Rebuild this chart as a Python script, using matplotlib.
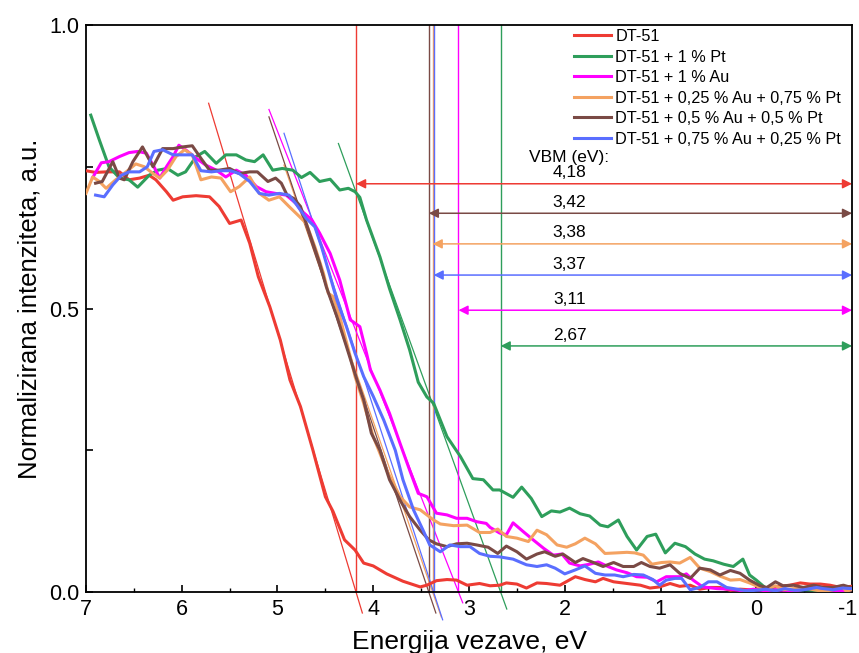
import matplotlib
matplotlib.use("Agg")
import matplotlib.pyplot as plt
from matplotlib.ticker import MultipleLocator, FixedLocator, FuncFormatter

plt.rcParams['font.family'] = ['Liberation Sans', 'DejaVu Sans']

# ---- spectra: binding energy (eV) and normalised intensity ----
e_dt51 = [7.00, 6.90, 6.79, 6.65, 6.55, 6.44, 6.34, 6.27, 6.16, 6.09, 5.99, 5.85, 5.71, 5.61, 5.50,
          5.38, 5.29, 5.20, 5.08, 4.97, 4.87, 4.76, 4.63, 4.50, 4.42, 4.30, 4.19, 4.10, 4.00, 3.86,
          3.69, 3.51, 3.44, 3.34, 3.23, 3.13, 3.02, 2.89, 2.78, 2.68, 2.61, 2.50, 2.40, 2.29, 2.19,
          2.05, 1.89, 1.79, 1.68, 1.60, 1.49, 1.35, 1.21, 1.11, 1.01, 0.90, 0.80, 0.69, 0.59, 0.48,
          0.38, 0.27, 0.17, 0.07, -0.04, -0.14, -0.25, -0.35, -0.46, -0.56, -0.67, -0.77, -0.88, -0.99]
i_dt51 = [0.743, 0.740, 0.741, 0.741, 0.727, 0.730, 0.735, 0.727, 0.706, 0.691, 0.697, 0.699, 0.697, 0.680, 0.650,
          0.656, 0.615, 0.556, 0.503, 0.444, 0.374, 0.327, 0.250, 0.168, 0.142, 0.092, 0.074, 0.051, 0.046, 0.032,
          0.019, 0.009, 0.012, 0.020, 0.022, 0.021, 0.012, 0.015, 0.011, 0.012, 0.016, 0.014, 0.007, 0.016, 0.015,
          0.012, 0.027, 0.022, 0.018, 0.024, 0.018, 0.015, 0.012, 0.007, 0.009, 0.015, 0.010, 0.012, 0.005, 0.008,
          0.008, 0.003, 0.005, 0.004, 0.005, 0.008, 0.010, 0.012, 0.016, 0.014, 0.014, 0.012, 0.008, 0.010]

e_pt = [6.95, 6.86, 6.76, 6.65, 6.55, 6.46, 6.34, 6.25, 6.15, 6.04, 5.96, 5.85, 5.76, 5.64, 5.54,
        5.43, 5.33, 5.24, 5.15, 5.05, 4.95, 4.84, 4.75, 4.66, 4.56, 4.45, 4.35, 4.26, 4.19, 4.14,
        4.07, 3.93, 3.83, 3.72, 3.62, 3.53, 3.44, 3.37, 3.23, 3.09, 2.96, 2.85, 2.75, 2.68, 2.54,
        2.45, 2.35, 2.24, 2.14, 2.05, 1.95, 1.84, 1.74, 1.63, 1.55, 1.44, 1.35, 1.25, 1.14, 1.05,
        0.95, 0.85, 0.74, 0.64, 0.54, 0.45, 0.34, 0.24, 0.14, 0.07, 0.00, -0.09, -0.20, -0.30,
        -0.40, -0.50, -0.60, -0.70, -0.80, -0.90, -0.99]
i_pt = [0.841, 0.797, 0.750, 0.730, 0.727, 0.714, 0.735, 0.744, 0.747, 0.735, 0.741, 0.768, 0.777, 0.756, 0.771,
        0.771, 0.762, 0.759, 0.771, 0.744, 0.747, 0.744, 0.731, 0.740, 0.724, 0.728, 0.709, 0.712, 0.706, 0.696,
        0.656, 0.591, 0.535, 0.480, 0.427, 0.370, 0.344, 0.333, 0.274, 0.239, 0.200, 0.198, 0.180, 0.180, 0.167,
        0.185, 0.165, 0.133, 0.143, 0.141, 0.148, 0.138, 0.134, 0.118, 0.115, 0.127, 0.098, 0.074, 0.098, 0.102,
        0.069, 0.086, 0.080, 0.067, 0.058, 0.055, 0.049, 0.045, 0.058, 0.030, 0.021, 0.008, 0.003, 0.005,
        0.002, 0.004, 0.003, 0.002, 0.004, 0.003, 0.004]

e_au = [6.93, 6.84, 6.76, 6.65, 6.55, 6.46, 6.37, 6.29, 6.23, 6.16, 6.09, 6.03, 5.96, 5.85, 5.75,
        5.64, 5.54, 5.43, 5.33, 5.22, 5.12, 5.02, 4.91, 4.81, 4.76, 4.64, 4.56, 4.45, 4.35, 4.24,
        4.14, 4.07, 4.03, 3.93, 3.83, 3.72, 3.62, 3.53, 3.44, 3.34, 3.23, 3.13, 3.02, 2.92, 2.82,
        2.78, 2.68, 2.61, 2.54, 2.43, 2.33, 2.22, 2.12, 2.03, 1.95, 1.84, 1.74, 1.65, 1.55, 1.46,
        1.35, 1.25, 1.14, 1.04, 0.94, 0.80, 0.73, 0.66, 0.56, 0.41, 0.27, 0.14, 0.03, -0.10,
        -0.20, -0.30, -0.40, -0.50, -0.60, -0.70, -0.80, -0.90, -0.99]
i_au = [0.731, 0.757, 0.759, 0.768, 0.775, 0.777, 0.774, 0.750, 0.730, 0.750, 0.768, 0.788, 0.780, 0.765, 0.753,
        0.744, 0.732, 0.744, 0.735, 0.715, 0.706, 0.703, 0.700, 0.686, 0.674, 0.656, 0.633, 0.597, 0.550, 0.480,
        0.468, 0.421, 0.392, 0.356, 0.315, 0.262, 0.215, 0.174, 0.168, 0.139, 0.136, 0.130, 0.130, 0.124, 0.121,
        0.114, 0.104, 0.101, 0.122, 0.106, 0.092, 0.077, 0.065, 0.067, 0.051, 0.046, 0.049, 0.053, 0.045, 0.039,
        0.034, 0.027, 0.026, 0.018, 0.027, 0.027, 0.032, 0.021, 0.009, 0.006, 0.005, 0.002, 0.005, 0.002,
        0.004, 0.003, 0.002, 0.005, 0.008, 0.004, 0.003, 0.002, 0.004]

e_au25 = [7.00, 6.93, 6.86, 6.79, 6.69, 6.58, 6.48, 6.39, 6.30, 6.23, 6.15, 6.06, 5.97, 5.89, 5.80,
          5.69, 5.59, 5.49, 5.40, 5.29, 5.19, 5.09, 4.98, 4.88, 4.77, 4.70, 4.61, 4.52, 4.47, 4.42,
          4.35, 4.24, 4.19, 4.10, 4.00, 3.86, 3.72, 3.62, 3.51, 3.44, 3.37, 3.30, 3.16, 3.02, 2.89,
          2.78, 2.70, 2.61, 2.50, 2.38, 2.29, 2.19, 2.08, 1.98, 1.89, 1.79, 1.68, 1.58, 1.46, 1.35,
          1.27, 1.18, 1.09, 0.99, 0.90, 0.80, 0.69, 0.59, 0.48, 0.38, 0.27, 0.17, 0.07, -0.04,
          -0.11, -0.20, -0.28, -0.39, -0.49, -0.60, -0.70, -0.80, -0.89, -0.94, -0.99]
i_au25 = [0.703, 0.732, 0.724, 0.712, 0.727, 0.741, 0.755, 0.750, 0.738, 0.730, 0.744, 0.768, 0.780, 0.771, 0.727,
          0.732, 0.730, 0.706, 0.715, 0.732, 0.703, 0.691, 0.697, 0.680, 0.662, 0.650, 0.609, 0.562, 0.527, 0.521,
          0.486, 0.415, 0.380, 0.333, 0.274, 0.215, 0.168, 0.150, 0.145, 0.136, 0.127, 0.120, 0.117, 0.118, 0.105,
          0.105, 0.111, 0.098, 0.095, 0.089, 0.109, 0.101, 0.083, 0.079, 0.085, 0.095, 0.085, 0.068, 0.069, 0.070,
          0.069, 0.065, 0.049, 0.052, 0.053, 0.051, 0.061, 0.042, 0.036, 0.028, 0.021, 0.022, 0.016, 0.008,
          0.006, 0.011, 0.004, 0.006, 0.008, 0.004, 0.001, 0.004, 0.011, 0.001, 0.004]

e_au50 = [6.90, 6.83, 6.72, 6.65, 6.60, 6.51, 6.41, 6.30, 6.20, 6.09, 5.99, 5.89, 5.80, 5.71, 5.61,
          5.50, 5.40, 5.29, 5.21, 5.10, 5.02, 4.96, 4.90, 4.83, 4.76, 4.70, 4.63, 4.56, 4.49, 4.38,
          4.28, 4.17, 4.10, 4.02, 3.93, 3.83, 3.72, 3.62, 3.51, 3.42, 3.34, 3.23, 3.13, 3.02, 2.92,
          2.80, 2.70, 2.61, 2.50, 2.40, 2.29, 2.21, 2.10, 2.02, 1.89, 1.81, 1.70, 1.60, 1.49, 1.39,
          1.28, 1.20, 1.11, 1.01, 0.90, 0.80, 0.69, 0.59, 0.48, 0.38, 0.27, 0.17, 0.07, -0.04,
          -0.11, -0.20, -0.28, -0.39, -0.49, -0.60, -0.70, -0.80, -0.91, -0.99]
i_au50 = [0.721, 0.724, 0.759, 0.730, 0.727, 0.759, 0.785, 0.750, 0.782, 0.782, 0.785, 0.787, 0.765, 0.744, 0.744,
          0.747, 0.738, 0.741, 0.741, 0.724, 0.730, 0.721, 0.700, 0.694, 0.680, 0.650, 0.615, 0.580, 0.538, 0.486,
          0.433, 0.374, 0.339, 0.280, 0.250, 0.198, 0.162, 0.133, 0.109, 0.092, 0.085, 0.080, 0.085, 0.086, 0.083,
          0.079, 0.068, 0.081, 0.071, 0.058, 0.067, 0.071, 0.063, 0.067, 0.052, 0.059, 0.052, 0.045, 0.052, 0.045,
          0.045, 0.052, 0.045, 0.042, 0.048, 0.033, 0.024, 0.042, 0.039, 0.030, 0.038, 0.033, 0.021, 0.011,
          0.008, 0.018, 0.011, 0.012, 0.008, 0.012, 0.008, 0.008, 0.012, 0.008]

e_au75 = [6.90, 6.81, 6.72, 6.63, 6.55, 6.44, 6.36, 6.29, 6.20, 6.09, 5.99, 5.89, 5.80, 5.69, 5.59,
          5.49, 5.40, 5.29, 5.19, 5.09, 4.98, 4.88, 4.80, 4.70, 4.61, 4.54, 4.47, 4.38, 4.28, 4.19,
          4.10, 4.00, 3.89, 3.77, 3.69, 3.58, 3.48, 3.41, 3.30, 3.20, 3.09, 2.99, 2.89, 2.78, 2.68,
          2.54, 2.40, 2.29, 2.19, 2.10, 2.00, 1.89, 1.79, 1.68, 1.58, 1.48, 1.39, 1.28, 1.18, 1.08,
          1.01, 0.94, 0.85, 0.78, 0.69, 0.59, 0.50, 0.41, 0.31, 0.20, 0.10, 0.00, -0.10, -0.20,
          -0.30, -0.40, -0.50, -0.63, -0.70, -0.80, -0.90, -0.99]
i_au75 = [0.700, 0.697, 0.718, 0.735, 0.741, 0.741, 0.750, 0.777, 0.780, 0.771, 0.771, 0.771, 0.743, 0.741, 0.743,
          0.743, 0.738, 0.724, 0.703, 0.700, 0.703, 0.700, 0.683, 0.659, 0.644, 0.609, 0.568, 0.515, 0.468, 0.421,
          0.380, 0.345, 0.303, 0.250, 0.198, 0.145, 0.109, 0.083, 0.071, 0.083, 0.080, 0.080, 0.068, 0.063, 0.062,
          0.058, 0.048, 0.045, 0.048, 0.042, 0.032, 0.039, 0.046, 0.033, 0.030, 0.030, 0.027, 0.031, 0.030, 0.022,
          0.012, 0.021, 0.024, 0.024, 0.004, 0.008, 0.018, 0.018, 0.008, 0.005, 0.002, 0.003, 0.005, 0.002,
          0.006, 0.003, 0.004, 0.008, 0.006, 0.004, 0.007, 0.006]

labels = ["DT-51", "DT-51 + 1 % Pt", "DT-51 + 1 % Au",
          "DT-51 + 0,25 % Au + 0,75 % Pt", "DT-51 + 0,5 % Au + 0,5 % Pt",
          "DT-51 + 0,75 % Au + 0,25 % Pt"]
energies = [e_dt51, e_pt, e_au, e_au25, e_au50, e_au75]
intensities = [i_dt51, i_pt, i_au, i_au25, i_au50, i_au75]
colors = ["#EE3B33", "#2E9E5B", "#FF00FF", "#F4A261", "#7A4A45", "#5A6EFF"]

# ---- valence band maximum: value, linear-fit slope and drawn extent ----
vbm = [4.18, 2.67, 3.11, 3.38, 3.42, 3.37]
vbm_text = ["4,18", "2,67", "3,11", "3,38", "3,42", "3,37"]
fit_slope = [0.56, 0.467, 0.43, 0.485, 0.502, 0.518]
fit_top = [0.862, 0.791, 0.851, 0.753, 0.838, 0.809]
fit_bottom = [-0.037, -0.030, -0.019, -0.044, -0.037, -0.049]
arrow_level = [0.720, 0.434, 0.497, 0.614, 0.668, 0.559]

x_ticks = [7, 6, 5, 4, 3, 2, 1, 0, -1]

fig = plt.figure(figsize=(8.59, 6.53), dpi=100)
ax = fig.add_axes([0.1001, 0.0934, 0.8918, 0.8683])

for e, i, c, lab in zip(energies, intensities, colors, labels):
    ax.plot(e, i, color=c, lw=2.2, label=lab, zorder=3)

for v, s, yt, yb, c in zip(vbm, fit_slope, fit_top, fit_bottom, colors):
    ax.plot([v + yt / s, v + yb / s], [yt, yb], color=c, lw=0.9, clip_on=False, zorder=2)
    ax.plot([v, v], [0, 1], color=c, lw=1.0, zorder=2)

for v, lvl, txt, c in zip(vbm, arrow_level, vbm_text, colors):
    ax.annotate("", xy=(v, lvl), xytext=(-1.0, lvl),
                arrowprops=dict(arrowstyle="<|-|>", color=c, lw=1.1,
                                mutation_scale=14, shrinkA=0, shrinkB=0),
                zorder=4)
    ax.text(1.95, lvl + 0.006, txt, ha="center", va="bottom", fontsize=12.5)

ax.text(1.95, 0.767, "VBM (eV):", ha="center", va="center", fontsize=12.5)

ax.set_xlim(7, -1)
ax.set_ylim(0, 1)
ax.xaxis.set_major_locator(FixedLocator(x_ticks))
ax.xaxis.set_minor_locator(MultipleLocator(0.5))
# the right-most label is placed by hand so it stays inside the canvas
ax.xaxis.set_major_formatter(FuncFormatter(lambda v, p: "" if v == x_ticks[-1] else f"{v:g}"))
ax.annotate(f"{x_ticks[-1]:g}", xy=(x_ticks[-1], 0), xycoords=("data", "axes fraction"),
            xytext=(-3, -5), textcoords="offset points", ha="center", va="top",
            fontsize=15.5, annotation_clip=False)
ax.yaxis.set_major_locator(FixedLocator([0, 0.25, 0.5, 0.75, 1.0]))
ax.yaxis.set_major_formatter(FuncFormatter(
    lambda v, p: f"{v:.1f}" if abs(v * 2 - round(v * 2)) < 1e-9 else ""))
ax.tick_params(axis="both", which="major", direction="in", length=5, width=1.2,
               labelsize=15.5, pad=5)
ax.tick_params(axis="x", which="minor", direction="in", length=3, width=1.0)
for sp in ax.spines.values():
    sp.set_linewidth(1.3)

ax.set_xlabel("Energija vezave, eV", fontsize=19, labelpad=7)
ax.set_ylabel("Normalizirana intenziteta, a.u.", fontsize=18.5, labelpad=5)

leg = ax.legend(loc="upper left", bbox_to_anchor=(574 / 859, 1 - 29 / 653),
                bbox_transform=fig.transFigure, frameon=False, fontsize=11.7,
                handlelength=2.25, handletextpad=0.3, labelspacing=0.34,
                borderpad=0, borderaxespad=0)

fig.savefig("out.png", dpi=100)
